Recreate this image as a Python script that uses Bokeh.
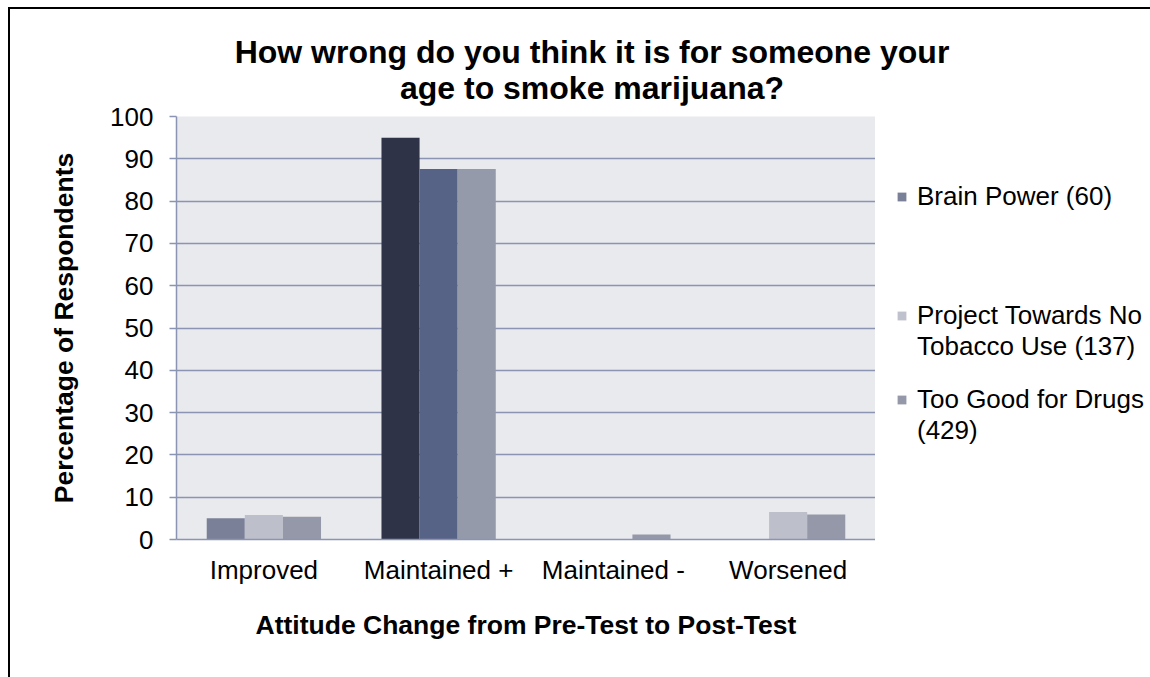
from bokeh.plotting import figure
from bokeh.models import (ColumnDataSource, FactorRange, Range1d, FixedTicker,
                          Legend, LegendItem, Div)
from bokeh.layouts import column, row
from bokeh.transform import dodge
from bokeh.embed import file_html
from bokeh.resources import INLINE

# Attitude change categories and percentage of respondents per program
categories = ["Improved", "Maintained +", "Maintained -", "Worsened"]
brain_power = [5.0, 95.0, 0.0, 0.0]
project_towards_no_tobacco = [5.8, 87.6, 0.0, 6.5]
too_good_for_drugs = [5.4, 87.6, 1.2, 5.9]

title_lines = ["How wrong do you think it is for someone your",
               "age to smoke marijuana?"]
# legend text, one list per entry (one string per printed line)
series_lines = [["Brain Power (60)"],
                ["Project Towards No", "Tobacco Use (137)"],
                ["Too Good for Drugs", "(429)"]]
y_ticks = [0, 10, 20, 30, 40, 50, 60, 70, 80, 90, 100]

# per-bar fill colours (the chart varies shades by category)
bp_colors = ["#7b8099", "#2e3348", "#7b8099", "#7b8099"]
pt_colors = ["#bdbfca", "#576287", "#bdbfca", "#bdbfca"]
tg_colors = ["#9598a9", "#959aab", "#9598a9", "#9598a9"]
legend_colors = ["#7b8099", "#bfc1cc", "#9598a8"]

FONT = "Liberation Sans"
GRID = "#8c94b4"

source = ColumnDataSource(dict(
    cat=categories,
    bp=brain_power, pt=project_towards_no_tobacco, tg=too_good_for_drugs,
    bp_c=bp_colors, pt_c=pt_colors, tg_c=tg_colors,
))

# chart title as a text block above the plot
title_div = Div(
    text=('<div style="width:1140px;box-sizing:border-box;padding-left:24px;'
          'padding-top:25px;text-align:center;'
          f"font-family:'{FONT}';font-size:32px;font-weight:bold;"
          'line-height:36px;color:black;white-space:nowrap;">'
          + "<br>".join(title_lines) + "</div>"),
    width=1140, height=96, margin=0)

p = figure(width=865, height=572, x_range=FactorRange(*categories),
           y_range=Range1d(0, 100), output_backend="svg", toolbar_location=None,
           title=None,
           min_border_left=166, min_border_right=0, min_border_top=11,
           min_border_bottom=138)
p.margin = 0
p.background_fill_color = "#e9eaed"
p.border_fill_color = "white"
p.outline_line_color = None

bw = 0.218
p.vbar(x=dodge("cat", -bw, range=p.x_range), top="bp", width=bw,
       source=source, fill_color="bp_c", line_color=None)
p.vbar(x=dodge("cat", 0.0, range=p.x_range), top="pt", width=bw,
       source=source, fill_color="pt_c", line_color=None)
p.vbar(x=dodge("cat", bw, range=p.x_range), top="tg", width=bw,
       source=source, fill_color="tg_c", line_color=None)

# axes
p.xgrid.grid_line_color = None
p.ygrid.grid_line_color = GRID
p.ygrid.grid_line_width = 1.5
p.yaxis.ticker = FixedTicker(ticks=y_ticks)
for ax in (p.xaxis[0], p.yaxis[0]):
    ax.axis_line_color = GRID
    ax.axis_line_width = 1.5
    ax.major_tick_line_color = GRID
    ax.major_tick_line_width = 1.5
    ax.minor_tick_line_color = None
    ax.major_label_text_font = FONT
    ax.major_label_text_font_size = "26px"
    ax.major_label_text_color = "black"
    ax.axis_label_text_font = FONT
    ax.axis_label_text_font_size = "26.5px"
    ax.axis_label_text_font_style = "bold"
    ax.axis_label_text_color = "black"
p.yaxis.major_tick_out = 7
p.yaxis.major_tick_in = 0
p.yaxis.major_label_standoff = 16
p.yaxis.axis_label = "Percentage of Respondents"
p.yaxis.axis_label_standoff = 28
p.xaxis.major_tick_out = 0
p.xaxis.major_tick_in = 0
p.xaxis.major_tick_line_color = None
p.xaxis.major_label_standoff = 15
p.xaxis.axis_label = "Attitude Change from Pre-Test to Post-Test"
p.xaxis.axis_label_standoff = 22

# legend panel: a bare figure that only holds the legend
lp = figure(width=275, height=572, x_range=Range1d(0, 1), y_range=Range1d(0, 1),
            x_axis_type=None, y_axis_type=None, output_backend="svg",
            toolbar_location=None, title=None,
            min_border_left=0, min_border_right=0, min_border_top=0,
            min_border_bottom=0)
lp.margin = 0
lp.outline_line_color = None
lp.background_fill_color = "white"
lp.border_fill_color = "white"

# flat (zero-height) swatch glyphs that the legend rows refer to
swatches = [lp.vbar(x=[0.5], top=[0.0], width=0.1, fill_color=c, line_color=None)
            for c in legend_colors]
gap = lp.vbar(x=[0.5], top=[0.0], width=0.1, fill_alpha=0, line_alpha=0)


def blank(n):
    return [LegendItem(label="", renderers=[gap]) for _ in range(n)]


def entry(lines, renderer):
    rows = [LegendItem(label=lines[0], renderers=[renderer])]
    rows += [LegendItem(label=t, renderers=[gap]) for t in lines[1:]]
    return rows


items = (blank(4) + entry(series_lines[0], swatches[0]) + blank(8)
         + entry(series_lines[1], swatches[1]) + blank(2)
         + entry(series_lines[2], swatches[2]))

lg = Legend(items=items, location="top_left", orientation="vertical")
lg.label_text_font = FONT
lg.label_text_font_size = "26px"
lg.label_text_color = "black"
lg.glyph_width = 11
lg.glyph_height = 11
lg.label_standoff = 10
lg.spacing = 0
lg.padding = 0
lg.margin = 21
lg.border_line_color = None
lg.background_fill_alpha = 0
lp.add_layout(lg, "center")

# black frame around the whole chart area
layout = column(title_div, row(p, lp, spacing=0), spacing=0)
layout.styles = {"margin-left": "8px", "margin-top": "7px",
                 "border-left": "2px solid black",
                 "border-top": "2px solid black"}

open("out.html", "w").write(file_html(layout, INLINE))
